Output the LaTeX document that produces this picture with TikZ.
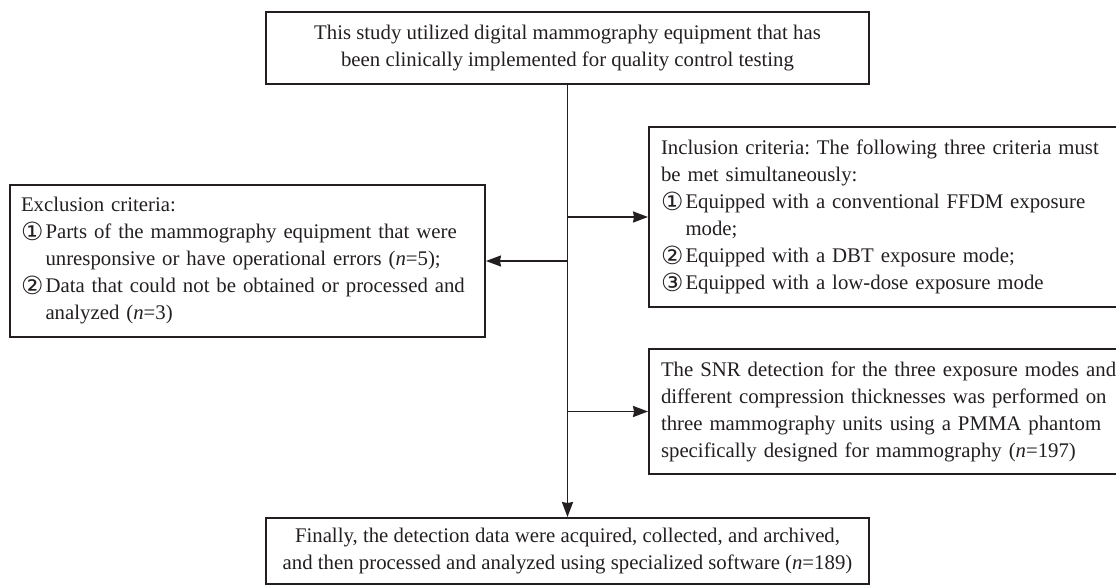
\documentclass[tikz,border=0pt]{standalone}
\usepackage{fontspec}
\setmainfont{Liberation Serif}
\newfontfamily\circfont{DejaVu Sans}
\usetikzlibrary{arrows.meta}
\definecolor{ink}{HTML}{231F20}
\newcommand{\cnum}[1]{\makebox[24.5pt][l]{\smash{\raisebox{-1.5pt}{\circfont\fontsize{25}{27}\selectfont #1}}}}
\newcommand{\hang}{\hspace*{24.5pt}}
\newcommand{\oneline}[1]{\mbox{#1}}
\begin{document}
\frenchspacing
\begin{tikzpicture}[x=1pt,y=-1pt,
  box/.style={draw=ink, line width=1.9pt, text=ink, inner sep=0pt,
    font=\fontsize{20.8}{27}\selectfont},
  conn/.style={draw=ink, line width=1.9pt},
  arr/.style={conn, -{Stealth[length=15pt,width=11pt,inset=1pt]}}]
\useasboundingbox (0,0) rectangle (1116,584);
\node[box, minimum width=603pt, minimum height=72pt, align=center] (top) at (567.5,48)
  {This study utilized digital mammography equipment that has\\been clinically implemented for quality control testing};
\node[box, minimum width=475pt, minimum height=152pt, text width=453pt, align=left] (excl) at (247.5,261)
  {\oneline{Exclusion criteria:}\\
   \oneline{\cnum{①}Parts of the mammography equipment that were}\\
   \oneline{\hang unresponsive or have operational errors (\textit{n}=5);}\\
   \oneline{\cnum{②}Data that could not be obtained or processed and}\\
   \oneline{\hang analyzed (\textit{n}=3)}};
\node[box, minimum width=468pt, minimum height=180pt, text width=444pt, align=left] (incl) at (883,217)
  {\oneline{Inclusion criteria: The following three criteria must}\\
   \oneline{be met simultaneously:}\\
   \oneline{\cnum{①}Equipped with a conventional FFDM exposure}\\
   \oneline{\hang mode;}\\
   \oneline{\cnum{②}Equipped with a DBT exposure mode;}\\
   \oneline{\cnum{③}Equipped with a low-dose exposure mode}};
\node[box, minimum width=468pt, minimum height=125pt, text width=444pt, align=left] (snr) at (883,411.5)
  {\oneline{The SNR detection for the three exposure modes and}\\
   \oneline{different compression thicknesses was performed on}\\
   \oneline{three mammography units using a PMMA phantom}\\
   \oneline{specifically designed for mammography (\textit{n}=197)}};
\node[box, minimum width=603pt, minimum height=66pt, align=center] (fin) at (567.5,551)
  {Finally, the detection data were acquired, collected, and archived,\\
   and then processed and analyzed using specialized software (\textit{n}=189)};
\draw[arr] (top.south) -- (fin.north);
\draw[arr] (top.south |- incl.west) -- (incl.west);
\draw[arr] (top.south |- excl.east) -- (excl.east);
\draw[arr] (top.south |- snr.west) -- (snr.west);
\end{tikzpicture}
\end{document}
